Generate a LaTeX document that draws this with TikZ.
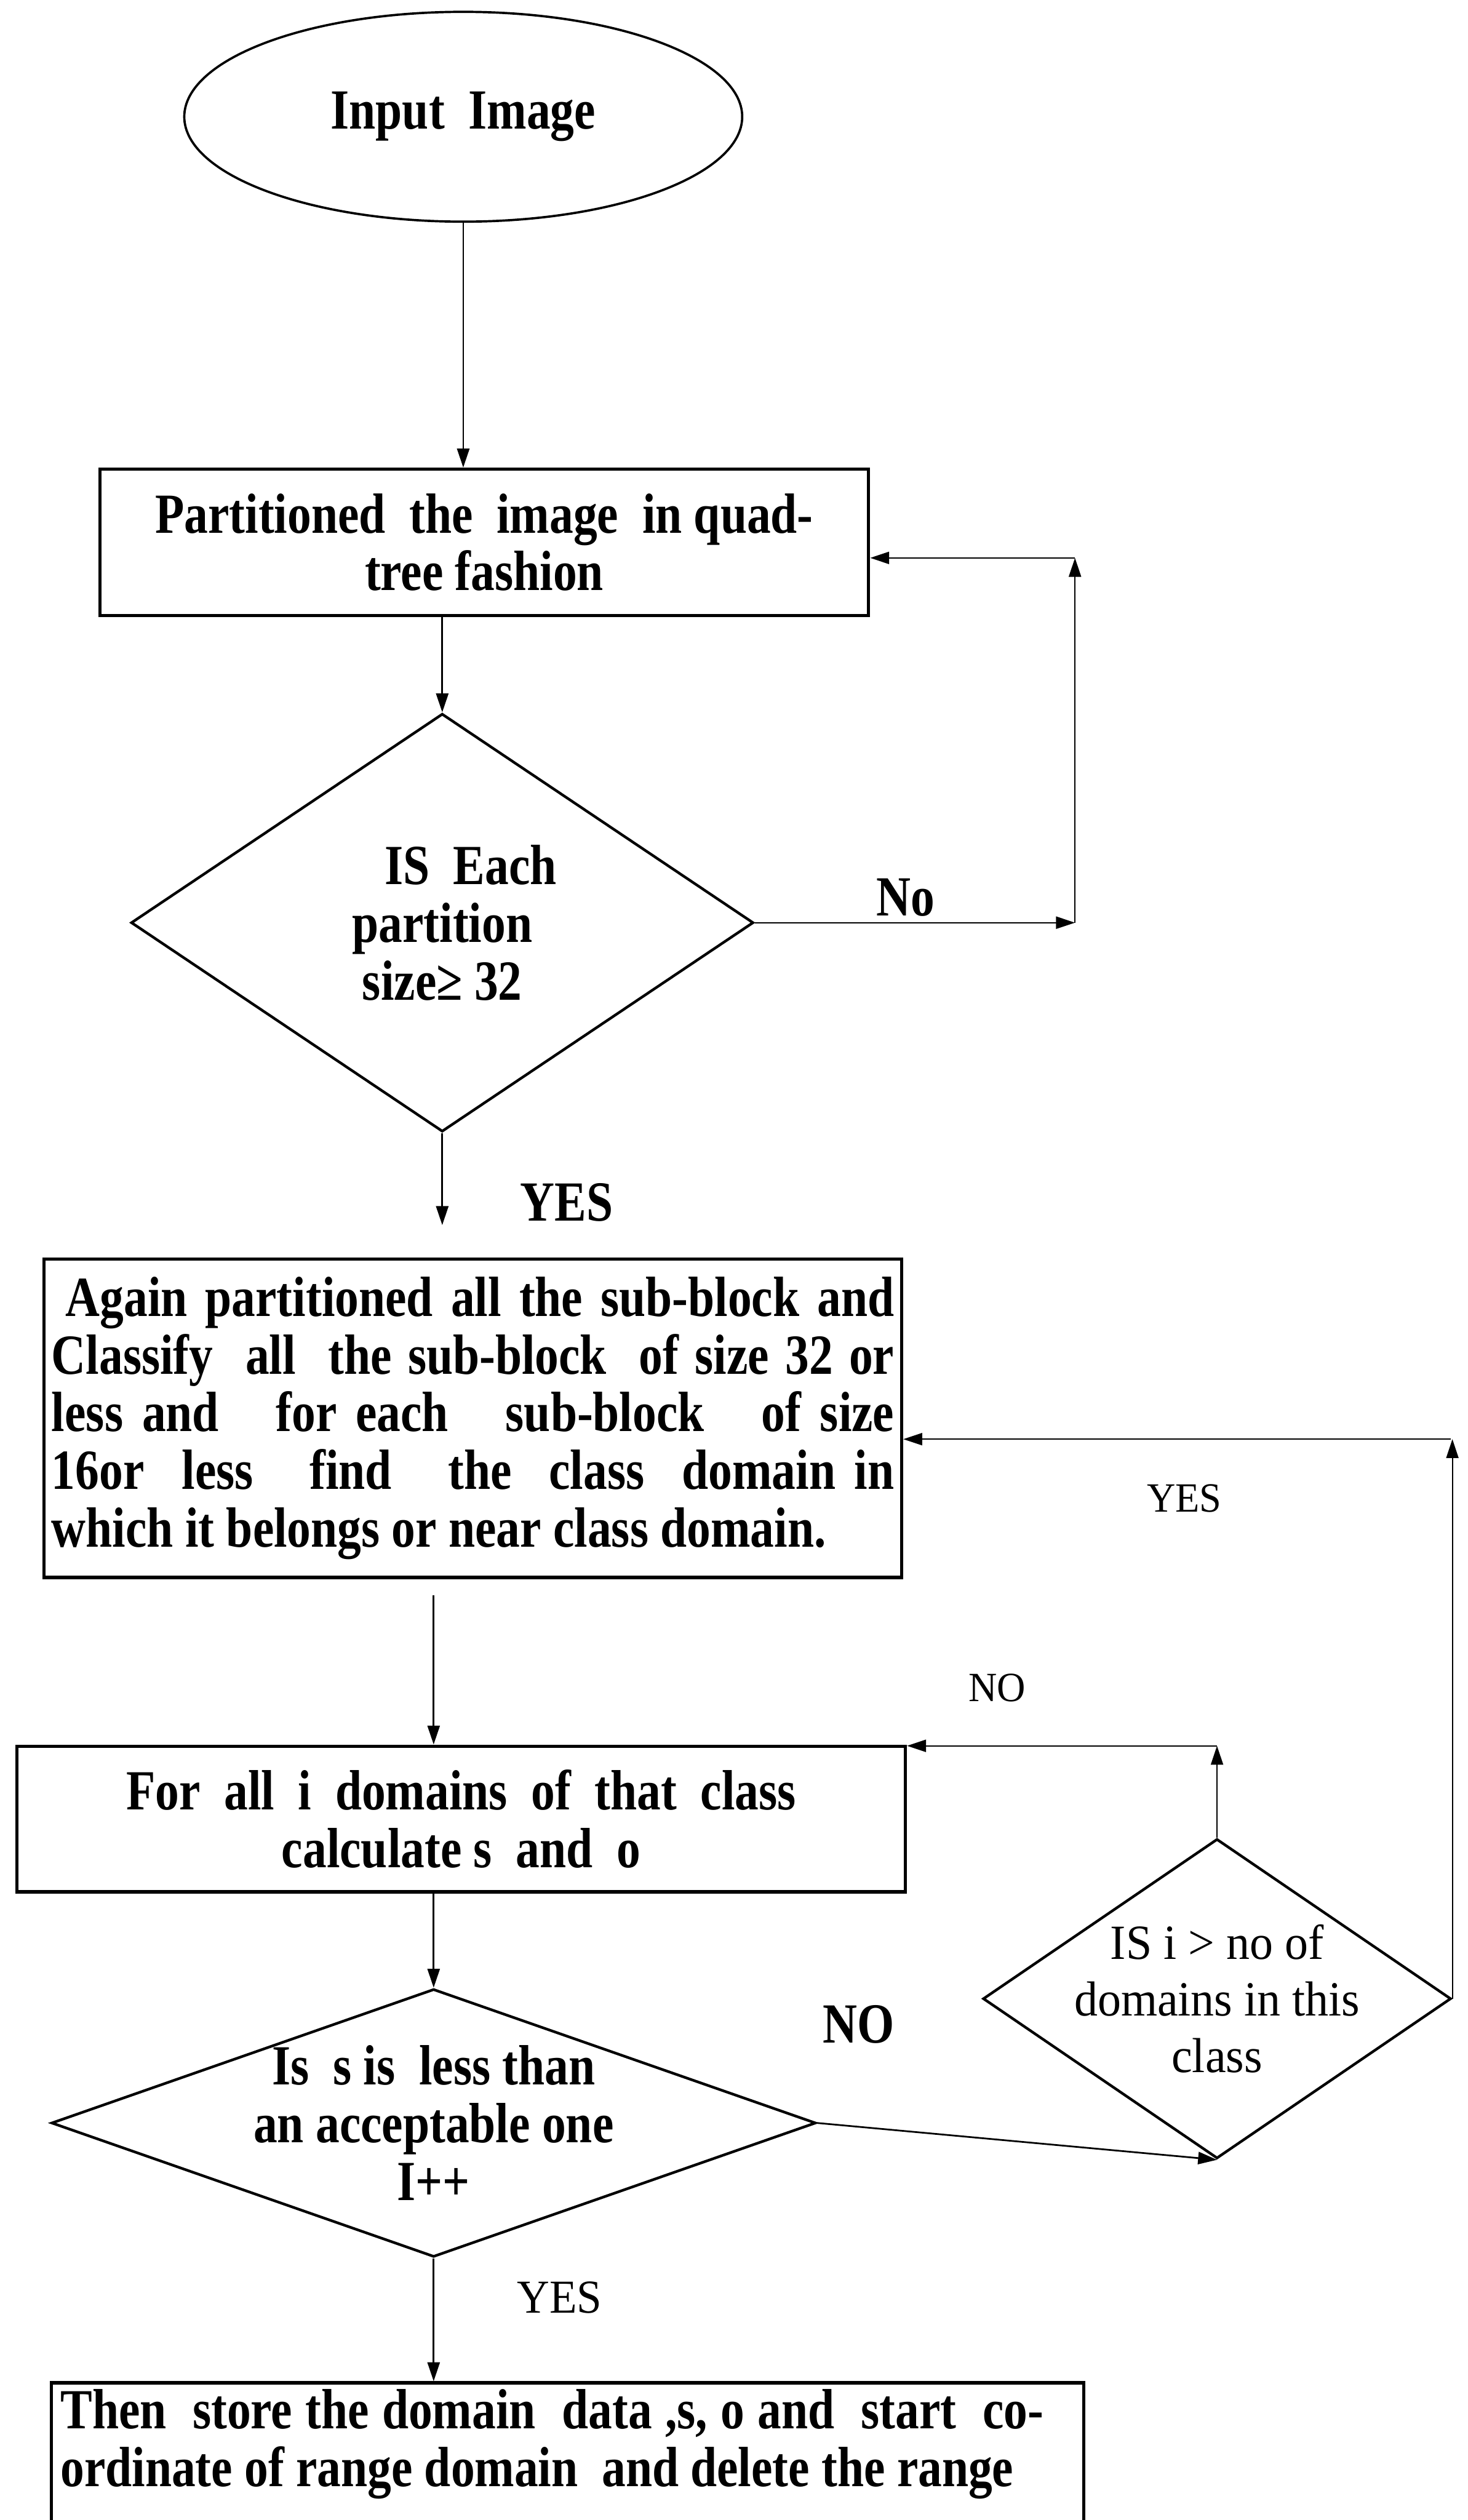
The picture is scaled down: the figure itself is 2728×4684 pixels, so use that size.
\documentclass[tikz,border=0pt]{standalone}
\usepackage{fontspec}
\setmainfont{Liberation Serif}[FakeStretch=0.84]
\newfontfamily\widerm{Liberation Serif}[FakeStretch=0.95]
\usetikzlibrary{shapes.geometric,arrows.meta}

\newcommand{\bigbf}{\fontsize{30pt}{30.5pt}\selectfont\bfseries}
\newcommand{\midrm}{\widerm\fontsize{26pt}{30pt}\selectfont}
\newcommand{\smallrm}{\widerm\fontsize{22pt}{24pt}\selectfont}

\tikzset{
  proc/.style={draw, line width=1.7pt, align=center, font=\bigbf},
  decision/.style={draw, shape=diamond, line width=1.4pt, inner sep=-12pt, align=center},
  lbl/.style={inner sep=0pt},
  flow/.style={->, line width=0.9pt},
  back/.style={->, line width=0.6pt},
}

\begin{document}
\begin{tikzpicture}[x=0.1mm, y=-0.1mm, >={Triangle[length=10pt,width=6.5pt]}]
    \useasboundingbox (0,0) rectangle (2728,4684);

    \node[shape=ellipse, draw, line width=1.2pt, minimum width=10.37cm, minimum height=3.9cm, font=\bigbf] (start) at (861,217) {Input~~Image};
    \node[proc, minimum width=14.29cm, minimum height=2.72cm] (p1) at (900,1008) {Partitioned~~the~~image~~in quad-\\tree fashion};
    \node[decision, aspect=1.49, minimum width=11.57cm, minimum height=7.77cm, font=\bigbf] (d1) at (822,1715) {\hspace*{1em}IS~~Each\\partition\\size≥ 32};
    \node[proc, text width=15.66cm, inner xsep=0.14cm, minimum height=5.92cm, align=justify, font=\bigbf\sloppy] (b2) at (879,2636) {\hspace*{0.26cm}Again partitioned all the sub-block and\linebreak Classify~~all~~the sub-block~~of size 32 or\linebreak less and~~~for each~~~sub-block~~~of size\linebreak 16or~~less~~~find~~~the~~class~~domain in\linebreak which it belongs or near class domain.};
    \node[proc, minimum width=16.52cm, minimum height=2.71cm] (b3) at (857,3381) {For~~all~~i~~domains~~of~~that~~class\\calculate s~~and~~o};
    \node[decision, aspect=1.46, minimum width=8.7cm, minimum height=5.94cm, font=\midrm] (d2) at (2262,3715) {IS i > no of\\domains in this\\class};
    \node[decision, aspect=2.85, minimum width=14.21cm, minimum height=4.98cm, font=\bigbf] (d3) at (806,3946) {Is~~s is~~less than\\an acceptable one\\I++};
    \node[proc, anchor=north, inner xsep=0.17cm, minimum width=19.19cm] (b4) at (1055,4426) {\parbox[t][3.5cm][t]{18.27cm}{\sloppy Then~~store the domain~~data ,s, o and~~start~~co-\linebreak ordinate of range domain~~and delete the range}\hspace*{0.58cm}};

    \node[lbl, font=\bigbf] (no1) at (1683,1668) {No};
    \node[lbl, font=\bigbf] (yes1) at (1053,2235) {YES};
    \node[lbl, font=\smallrm] (yes2) at (2201,2785) {YES};
    \node[lbl, font=\smallrm] (no2) at (1853,3137) {NO};
    \node[lbl, font=\bigbf] (no3) at (1596,3763) {NO};
    \node[lbl, font=\smallrm\fontsize{25pt}{27pt}\selectfont] (yes3) at (1040,4270) {YES};

    \coordinate (loopA) at (1998,1037);
    \coordinate (yesturn) at (2697,2675);
    \coordinate (noturn) at (2262,3245);

    \path[flow] (start) edge (start |- p1.north);
    \path[flow] (d1.north |- p1.south) edge (d1);
    \path[flow] (d1) edge[shorten >=0.6cm] (d1 |- b2.north);
    \path[flow] (d3.north |- b2.south) edge[shorten <=0.3cm] (d3.north |- b3.north);
    \path[flow] (d3.north |- b3.south) edge (d3);
    \path[flow] (d3) edge (d3 |- b4.north);
    \path[flow] (d3.east) edge (d2.south);

    \path[back] (d1.east) edge (d1.east -| loopA);
    \path[back] (d1.east -| loopA) edge (loopA);
    \path[back] (loopA) edge (loopA -| p1.east);

    \path[back] (d2.east) edge (d2.east |- yesturn);
    \path[back] (yesturn) edge (yesturn -| b2.east);

    \path[back] (d2.north) edge (noturn);
    \path[back] (noturn) edge (noturn -| b3.east);
\end{tikzpicture}
\end{document}
